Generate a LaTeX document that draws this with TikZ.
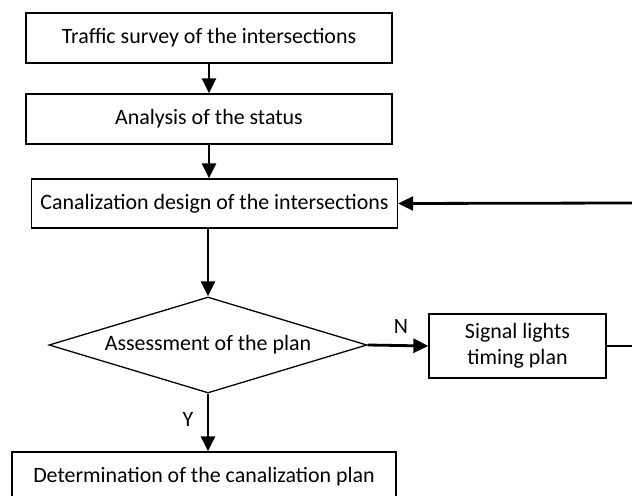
\documentclass[tikz,border=0pt]{standalone}
\usepackage{fontspec}
\setmainfont{Carlito}
\usetikzlibrary{shapes.geometric,arrows.meta}
\begin{document}
\begin{tikzpicture}[x=1bp,y=-1bp,
  txt/.style={font=\fontsize{22}{26}\selectfont},
  box/.style={txt,draw,line width=1.3bp,inner sep=0pt,align=center},
  decision/.style={txt,draw,diamond,aspect=3.3,line width=1.3bp,inner sep=0pt,minimum width=318bp,minimum height=96bp},
  arr/.style={line width=2.8bp,-{Triangle[length=15bp,width=14bp]}},
  thinline/.style={line width=1.3bp}]
\useasboundingbox (0,0) rectangle (632,496);
\node[box,minimum width=366bp,minimum height=50bp] (b1) at (209,38) {Traffic survey of the intersections};
\node[box,minimum width=366bp,minimum height=50bp] (b2) at (209,119) {Analysis of the status};
\node[box,minimum width=366bp,minimum height=49bp] (b3) at (214.5,203.5) {Canalization design of the intersections};
\node[decision] (d) at (208,345) {Assessment of the plan};
\node[box,minimum width=177bp,minimum height=64bp] (b4) at (517.5,346) {Signal lights\\timing plan};
\node[box,minimum width=384bp,minimum height=50bp] (b5) at (204,477) {Determination of the canalization plan};
\coordinate (rlow) at (632,346);
\coordinate (rtop) at (632,203);
\draw[arr] (b1.south) -- (b2.north);
\draw[arr] (b2.south) -- (b2.south |- b3.north);
\draw[arr] (d.north |- b3.south) -- (d.north);
\draw[arr] (d.east) -- node[txt,above=7bp,pos=0.55] (nlab) {N} (b4.west);
\draw[arr] (d.south) -- node[txt,left=10bp,pos=0.45] (ylab) {Y} (d.south |- b5.north);
\draw[thinline] (b4.east) -- (rlow);
\draw[arr] (rtop) -- (b3.east);
\end{tikzpicture}
\end{document}
